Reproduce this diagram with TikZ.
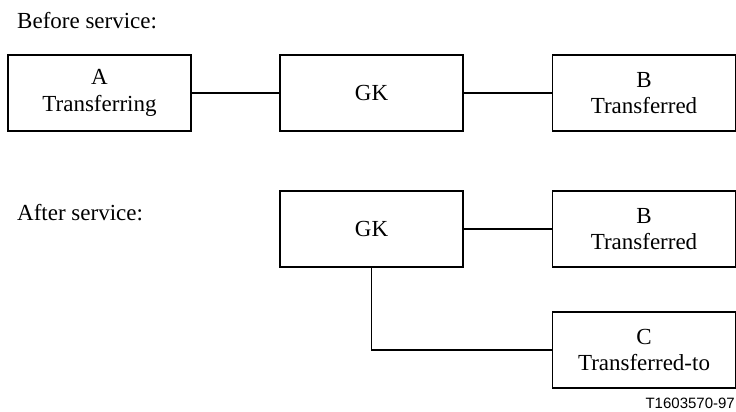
\documentclass[tikz,border=0pt]{standalone}
\usepackage{fontspec}
\setmainfont{Liberation Serif}
\newfontfamily\labelsans{Liberation Sans}
\begin{document}
\begin{tikzpicture}[x=1pt,y=-1pt,
  box/.style={draw,line width=1.3pt,minimum width=183pt,minimum height=76pt,align=center,inner sep=0pt,
    font=\fontsize{23}{26.5}\selectfont},
  conn/.style={line width=1.5pt},
  lbl/.style={anchor=base west,inner sep=0pt,font=\fontsize{23}{26.5}\selectfont}]
\useasboundingbox (0,0) rectangle (736,412);
\node[lbl] (before) at (17,29) {Before service:};
\node[lbl] (after) at (17,220) {After service:};
\node[box] (A) at (99.5,93) {A\\Transferring};
\node[box] (GK1) at (371.5,93) {GK};
\node[box] (B1) at (644,93) {B\\Transferred};
\node[box] (GK2) at (371.5,229) {GK};
\node[box] (B2) at (644,229) {B\\Transferred};
\node[box] (C) at (644,350) {C\\Transferred-to};
\node[anchor=base east,inner sep=0pt,font=\labelsans\fontsize{15}{18}\selectfont] (id) at (735,408) {T1603570-97};
\draw[conn] (A) -- (GK1);
\draw[conn] (GK1) -- (B1);
\draw[conn] (GK2) -- (B2);
\draw[conn] (GK2.south) |- (C.west);
\end{tikzpicture}
\end{document}
